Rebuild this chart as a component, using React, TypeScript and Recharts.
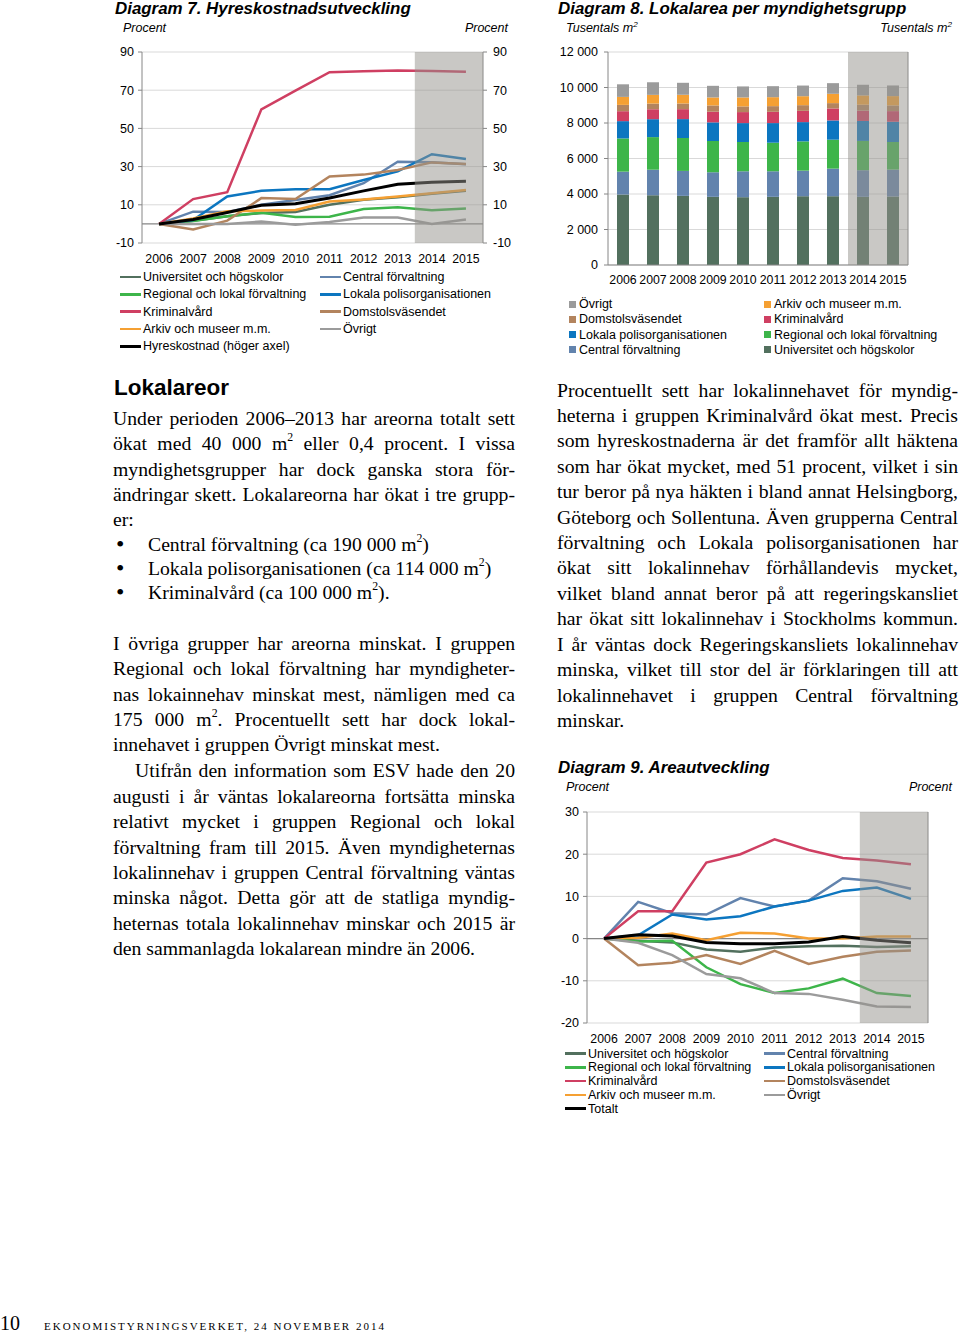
import React from 'react';
import {
  Bar,
  BarChart,
  CartesianGrid,
  Line,
  LineChart,
  ReferenceArea,
  ReferenceLine,
  XAxis,
  YAxis,
} from 'recharts';

const years = ['2006', '2007', '2008', '2009', '2010', '2011', '2012', '2013', '2014', '2015'];
const forecastFrom = '2014';

// Diagram 7 – hyreskostnad, procent sedan 2006
const rentUniv = [0, 1.7, 4, 5.7, 6.2, 10, 12.6, 14, 15.8, 17.4];
const rentCentral = [0, 6.4, 6.2, 10, 12.5, 15, 21.3, 32.6, 32.3, 31.2];
const rentRegional = [0, 1.5, 4, 5.8, 3.6, 3.7, 7.8, 8.7, 7.1, 8];
const rentLokala = [0, 2, 14.4, 17.3, 18.2, 18.2, 23, 27.5, 36.5, 34];
const rentKrim = [0, 13, 16.6, 60, 69.8, 79.4, 79.9, 80.3, 80.1, 79.6];
const rentDomstol = [0, -2.9, 1.7, 13.5, 13, 24.8, 25.8, 28.2, 32.2, 31.3];
const rentArkiv = [0, 2.8, 6.6, 7, 7.3, 11.7, 12.8, 14.4, 16, 17.7];
const rentOvrigt = [0, 0, 0, 1.2, -0.5, 1, 3.3, 3.3, 0, 2.3];
const rentTotal = [0, 2.3, 6, 9.8, 10.5, 13.6, 17.3, 20.8, 21.8, 22.3];
const rentTicks = [-10, 10, 30, 50, 70, 90];

// Diagram 8 – lokalarea, tusentals m2
const areaUniv = [3970, 3930, 3895, 3840, 3820, 3840, 3875, 3875, 3840, 3860];
const areaCentral = [1290, 1440, 1405, 1385, 1460, 1440, 1440, 1555, 1500, 1515];
const areaRegional = [1870, 1835, 1855, 1760, 1650, 1610, 1650, 1630, 1650, 1555];
const areaLokala = [975, 1010, 1065, 1050, 1065, 1105, 1085, 1085, 1125, 1140];
const areaKrim = [560, 560, 560, 600, 620, 635, 635, 675, 580, 600];
const areaDomstol = [355, 320, 320, 355, 320, 320, 320, 300, 335, 320];
const areaArkiv = [450, 490, 490, 450, 505, 505, 505, 525, 525, 525];
const areaOvrigt = [710, 710, 675, 655, 620, 620, 600, 600, 600, 600];
const areaTicks = [0, 2000, 4000, 6000, 8000, 10000, 12000];

// Diagram 9 – areautveckling, procent sedan 2006
const devUniv = [0, -0.5, -0.9, -2.6, -3.1, -2.1, -1.8, -1.7, -2, -1.8];
const devCentral = [0, 8.7, 6, 5.7, 9.6, 7.6, 9, 14.3, 13.6, 11.8];
const devRegional = [0, -0.7, -0.5, -6.8, -10.8, -12.9, -11.8, -9.5, -12.9, -13.6];
const devLokala = [0, 0.8, 5.7, 4.5, 5.3, 7.6, 9, 11.3, 12.1, 9.4];
const devKrim = [0, 6.5, 6.5, 18, 20, 23.5, 21, 19.1, 18.5, 17.6];
const devDomstol = [0, -6.3, -5.7, -3.9, -6, -2.9, -6, -4.3, -3.1, -2.8];
const devArkiv = [0, 0.2, 1.2, -0.4, 1.4, 1.2, 0, 0, 0.5, 0.5];
const devOvrigt = [0, -1, -3.9, -8.4, -9.4, -12.9, -13.1, -14.5, -16.1, -16.2];
const devTotal = [0, 0.9, 0.6, -0.9, -1.2, -1.2, -0.8, 0.5, -0.4, -1];
const devTicks = [-20, -10, 0, 10, 20, 30];

const groups = [
  { key: 'univ', name: 'Universitet och högskolor', color: '#52705E' },
  { key: 'central', name: 'Central förvaltning', color: '#6283AD' },
  { key: 'regional', name: 'Regional och lokal förvaltning', color: '#3DB54A' },
  { key: 'lokala', name: 'Lokala polisorganisationen', color: '#0C76C0' },
  { key: 'krim', name: 'Kriminalvård', color: '#CF3F62' },
  { key: 'domstol', name: 'Domstolsväsendet', color: '#B3845E' },
  { key: 'arkiv', name: 'Arkiv och museer m.m.', color: '#F5A033' },
  { key: 'ovrigt', name: 'Övrigt', color: '#9B9B9B' },
];

// line charts use a numeric year index so the forecast band can start between two years
const rentData = years.map((year, i) => ({
  i,
  year,
  univ: rentUniv[i],
  central: rentCentral[i],
  regional: rentRegional[i],
  lokala: rentLokala[i],
  krim: rentKrim[i],
  domstol: rentDomstol[i],
  arkiv: rentArkiv[i],
  ovrigt: rentOvrigt[i],
  total: rentTotal[i],
}));

const areaData = years.map((year, i) => ({
  year,
  univ: areaUniv[i],
  central: areaCentral[i],
  regional: areaRegional[i],
  lokala: areaLokala[i],
  krim: areaKrim[i],
  domstol: areaDomstol[i],
  arkiv: areaArkiv[i],
  ovrigt: areaOvrigt[i],
}));

const devData = years.map((year, i) => ({
  i,
  year,
  univ: devUniv[i],
  central: devCentral[i],
  regional: devRegional[i],
  lokala: devLokala[i],
  krim: devKrim[i],
  domstol: devDomstol[i],
  arkiv: devArkiv[i],
  ovrigt: devOvrigt[i],
  total: devTotal[i],
}));

const leftText = [
  { y: 418, t: 'Under perioden 2006–2013 har areorna totalt sett', j: true },
  { y: 443, t: 'ökat med 40 000 m^2 eller 0,4 procent. I vissa', j: true },
  { y: 469, t: 'myndighetsgrupper har dock ganska stora för-', j: true },
  { y: 494, t: 'ändringar skett. Lokalareorna har ökat i tre grupp-', j: true },
  { y: 519, t: 'er:' },
  { y: 544, t: 'Central förvaltning (ca 190 000 m^2)', b: true },
  { y: 568, t: 'Lokala polisorganisationen (ca 114 000 m^2)', b: true },
  { y: 592, t: 'Kriminalvård (ca 100 000 m^2).', b: true },
  { y: 643, t: 'I övriga grupper har areorna minskat. I gruppen', j: true },
  { y: 668, t: 'Regional och lokal förvaltning har myndigheter-', j: true },
  { y: 694, t: 'nas lokainnehav minskat mest, nämligen med ca', j: true },
  { y: 719, t: '175 000 m^2. Procentuellt sett har dock lokal-', j: true },
  { y: 744, t: 'innehavet i gruppen Övrigt minskat mest.' },
  { y: 770, t: 'Utifrån den information som ESV hade den 20', j: true, ind: true },
  { y: 796, t: 'augusti i år väntas lokalareorna fortsätta minska', j: true },
  { y: 821, t: 'relativt mycket i gruppen Regional och lokal', j: true },
  { y: 847, t: 'förvaltning fram till 2015. Även myndigheternas', j: true },
  { y: 872, t: 'lokalinnehav i gruppen Central förvaltning väntas', j: true },
  { y: 897, t: 'minska något. Detta gör att de statliga myndig-', j: true },
  { y: 923, t: 'heternas totala lokalinnehav minskar och 2015 är', j: true },
  { y: 948, t: 'den sammanlagda lokalarean mindre än 2006.' },
];

const rightText = [
  { y: 390, t: 'Procentuellt sett har lokalinnehavet för myndig-', j: true },
  { y: 415, t: 'heterna i gruppen Kriminalvård ökat mest. Precis', j: true },
  { y: 440, t: 'som hyreskostnaderna är det framför allt häktena', j: true },
  { y: 466, t: 'som har ökat mycket, med 51 procent, vilket i sin', j: true },
  { y: 491, t: 'tur beror på nya häkten i bland annat Helsingborg,', j: true },
  { y: 517, t: 'Göteborg och Sollentuna. Även grupperna Central', j: true },
  { y: 542, t: 'förvaltning och Lokala polisorganisationen har', j: true },
  { y: 567, t: 'ökat sitt lokalinnehav förhållandevis mycket,', j: true },
  { y: 593, t: 'vilket bland annat beror på att regeringskansliet', j: true },
  { y: 618, t: 'har ökat sitt lokalinnehav i Stockholms kommun.', j: true },
  { y: 644, t: 'I år väntas dock Regeringskansliets lokalinnehav', j: true },
  { y: 669, t: 'minska, vilket till stor del är förklaringen till att', j: true },
  { y: 695, t: 'lokalinnehavet i gruppen Central förvaltning', j: true },
  { y: 720, t: 'minskar.' },
];

const SANS = '"Liberation Sans", Arial, sans-serif';
const SERIF = '"Liberation Serif", "Times New Roman", serif';
const AXIS = '#868686';
const GRID = '#D9D9D9';
const SHADE = '#93918B';
const tick = { fontSize: 12.5, fill: '#000' };
const xTick = { fontSize: 12.3, fill: '#000' };
const yearIdx = years.map((_, i) => i);
const shadeStart = years.indexOf(forecastFrom) - 0.5;
const xEnd = years.length - 0.5;

const spaced = (v: number) => String(v).replace(/\B(?=(\d{3})+(?!\d))/g, ' ');

function withSup(s: string) {
  const parts = s.split('^2');
  return parts.map((p, i) => (
    <React.Fragment key={i}>
      {p}
      {i < parts.length - 1 && (
        <span style={{ fontSize: '0.6em', verticalAlign: '0.75em', lineHeight: 0 }}>2</span>
      )}
    </React.Fragment>
  ));
}

function Abs({ x, y, children, style }: any) {
  return <div style={{ position: 'absolute', left: x, top: y, whiteSpace: 'nowrap', ...style }}>{children}</div>;
}

function TextColumn({ lines, left, width }: { lines: any[]; left: number; width: number }) {
  return (
    <>
      {lines.map((l, i) => (
        <div
          key={i}
          style={{
            position: 'absolute',
            left: l.b ? left + 35 : l.ind ? left + 22 : left,
            top: l.y - 11.7,
            width: l.b ? width - 35 : l.ind ? width - 22 : width,
            fontFamily: SERIF,
            fontSize: 19.7,
            lineHeight: '25px',
            textAlign: 'justify',
            textAlignLast: l.j ? 'justify' : 'left',
            color: '#000',
          }}
        >
          {l.b && <span style={{ position: 'absolute', left: -32, fontSize: 24, lineHeight: '25px' }}>•</span>}
          {withSup(l.t)}
        </div>
      ))}
    </>
  );
}

function Legend({ items, x, y, colW, rowH, square }: any) {
  return (
    <div
      style={{
        position: 'absolute',
        left: x,
        top: y,
        display: 'grid',
        gridTemplateColumns: `${colW}px ${colW}px`,
        gridAutoRows: `${rowH}px`,
        fontFamily: SANS,
        fontSize: 12.5,
        color: '#000',
      }}
    >
      {items.map((it: any) => (
        <div key={it.key} style={{ display: 'flex', alignItems: 'center', whiteSpace: 'nowrap' }}>
          <span
            style={{
              width: square ? 7 : 21,
              height: square ? 7 : 2.6,
              background: it.color,
              marginRight: square ? 3 : 2,
              display: 'inline-block',
            }}
          />
          {it.name}
        </div>
      ))}
    </div>
  );
}

function Titles({ x, y, title, unit, right }: any) {
  const unitStyle = { fontFamily: SANS, fontSize: 12.5, fontStyle: 'italic', lineHeight: '16px' };
  return (
    <>
      <Abs x={x} y={y - 10} style={{ fontFamily: SANS, fontSize: 16.9, fontWeight: 'bold', fontStyle: 'italic', lineHeight: '20px' }}>
        {title}
      </Abs>
      <Abs x={x + 8} y={y + 11} style={unitStyle}>
        {unit}
      </Abs>
      <div style={{ position: 'absolute', left: right - 200, width: 200, top: y + 11, textAlign: 'right', ...unitStyle }}>
        {unit}
      </div>
    </>
  );
}

function TrendChart({ data, domain, ticks, height, xHeight, bottom, rightWidth, totalAxis }: any) {
  return (
    <LineChart width={rightWidth === 37 ? 420 : 415} height={height} data={data} margin={{ top: 32, right: 0, bottom, left: 0 }}>
      <CartesianGrid vertical={false} stroke={GRID} />
      <XAxis
        dataKey="i"
        type="number"
        domain={[-0.5, xEnd]}
        ticks={yearIdx}
        tickFormatter={(v: number) => years[v]}
        interval={0}
        tickLine={false}
        axisLine={false}
        tick={xTick}
        tickMargin={5}
        height={xHeight}
      />
      <YAxis domain={domain} ticks={ticks} width={42} tickSize={4} tickMargin={4} axisLine={{ stroke: AXIS }} tickLine={{ stroke: AXIS }} tick={tick} />
      <YAxis yAxisId="r" orientation="right" domain={domain} ticks={ticks} width={rightWidth} tickSize={4} tickMargin={6} axisLine={{ stroke: AXIS }} tickLine={{ stroke: AXIS }} tick={tick} />
      <ReferenceLine y={0} stroke={AXIS} strokeWidth={1.2} />
      {groups.map((g) => (
        <Line key={g.key} dataKey={g.key} stroke={g.color} strokeWidth={2.5} dot={false} isAnimationActive={false} />
      ))}
      <Line yAxisId={totalAxis} dataKey="total" stroke="#000" strokeWidth={3} dot={false} isAnimationActive={false} />
      <ReferenceArea x1={shadeStart} x2={xEnd} fill={SHADE} fillOpacity={0.5} stroke="none" zIndex={1500} />
    </LineChart>
  );
}

function AreaBarChart() {
  return (
    <BarChart width={410} height={270} data={areaData} margin={{ top: 32, right: 0, bottom: 5, left: 0 }}>
      <CartesianGrid vertical={false} stroke={GRID} />
      <XAxis dataKey="year" interval={0} tickLine={false} axisLine={{ stroke: AXIS }} tick={xTick} tickMargin={4} height={20} />
      <YAxis domain={[0, 12000]} ticks={areaTicks} tickFormatter={spaced} width={60} tickSize={4} tickMargin={6} axisLine={{ stroke: AXIS }} tickLine={{ stroke: AXIS }} tick={tick} />
      <YAxis yAxisId="r" orientation="right" domain={[0, 12000]} ticks={areaTicks} tickFormatter={spaced} width={50} tickSize={4} tickMargin={6} axisLine={{ stroke: AXIS }} tickLine={{ stroke: AXIS }} tick={tick} />
      {groups.map((g) => (
        <Bar key={g.key} dataKey={g.key} stackId="a" fill={g.color} barSize={12} isAnimationActive={false} />
      ))}
      <ReferenceArea x1={forecastFrom} x2={years[years.length - 1]} fill={SHADE} fillOpacity={0.5} stroke="none" zIndex={1500} />
    </BarChart>
  );
}

export default function App() {
  const rentLegend = [...groups, { key: 'total', name: 'Hyreskostnad (höger axel)', color: '#000' }];
  const devLegend = [...groups, { key: 'total', name: 'Totalt', color: '#000' }];
  const barLegend = [...groups].reverse();
  return (
    <div style={{ position: 'absolute', left: 0, top: 0, width: 960, height: 1333, background: '#fff', overflow: 'hidden', fontFamily: SANS }}>
      <Titles x={115} y={9} title="Diagram 7. Hyreskostnadsutveckling" unit="Procent" right={508} />
      <div style={{ position: 'absolute', left: 100, top: 20 }}>
        <TrendChart data={rentData} domain={[-10, 90]} ticks={rentTicks} height={260} xHeight={30} bottom={7} rightWidth={37} totalAxis="r" />
      </div>
      <Legend items={rentLegend} x={120} y={268.4} colW={200} rowH={17.3} />

      <Titles x={558} y={9} title="Diagram 8. Lokalarea per myndighetsgrupp" unit={<>Tusentals m<sup style={{ fontSize: '0.65em', lineHeight: 0 }}>2</sup></>} right={952} />
      <div style={{ position: 'absolute', left: 548, top: 20 }}>
        <AreaBarChart />
      </div>
      <Legend items={barLegend} x={569} y={296.4} colW={195} rowH={15.3} square />

      <Abs x={114} y={374} style={{ fontFamily: SANS, fontSize: 22.5, fontWeight: 'bold', lineHeight: '28px' }}>
        Lokalareor
      </Abs>
      <TextColumn lines={leftText} left={113} width={402} />
      <TextColumn lines={rightText} left={557} width={401} />

      <Titles x={558} y={768} title="Diagram 9. Areautveckling" unit="Procent" right={952} />
      <div style={{ position: 'absolute', left: 545, top: 780 }}>
        <TrendChart data={devData} domain={[-20, 30]} ticks={devTicks} height={270} xHeight={22} bottom={5} rightWidth={32} totalAxis={0} />
      </div>
      <Legend items={devLegend} x={565} y={1046.6} colW={199} rowH={13.8} />

      <Abs x={0} y={1311} style={{ fontFamily: SERIF, fontSize: 20, lineHeight: '24px' }}>
        10
      </Abs>
      <Abs x={44} y={1318} style={{ fontFamily: SERIF, fontSize: 11, letterSpacing: 2, lineHeight: '16px' }}>
        EKONOMISTYRNINGSVERKET, 24 NOVEMBER 2014
      </Abs>
    </div>
  );
}
